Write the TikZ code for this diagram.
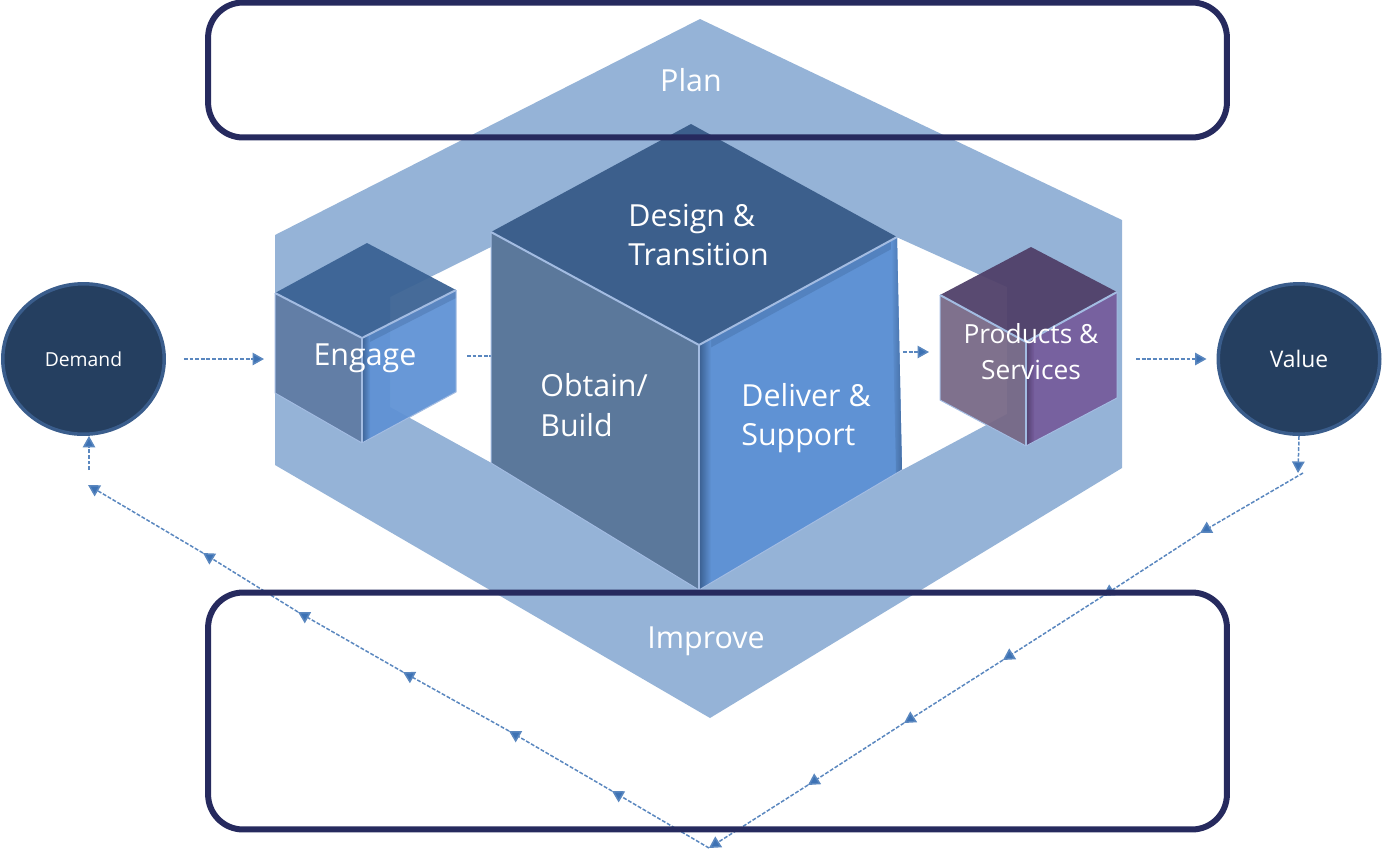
\documentclass[tikz,border=0pt]{standalone}
\usepackage{fontspec}
\setmainfont{Open Sans}
\usetikzlibrary{arrows.meta,shapes.geometric}
\definecolor{bandblue}{HTML}{95B3D7}
\definecolor{ringnavy}{HTML}{262A5E}
\definecolor{discfill}{HTML}{253F60}
\definecolor{discedge}{HTML}{3A5D8C}
\definecolor{flowblue}{HTML}{3D72B4}
\definecolor{edgelight}{HTML}{A3BCE2}
\definecolor{cubetop}{HTML}{3C5F8C}
\definecolor{cubeleft}{HTML}{5B789B}
\definecolor{cuberight}{HTML}{5F92D4}
\definecolor{cubedark}{HTML}{3A5F90}
\definecolor{smalltop}{HTML}{3A6293}
\definecolor{smallleft}{HTML}{5F7BA3}
\definecolor{smallright}{HTML}{5F92D4}
\definecolor{plumtop}{HTML}{4F3F68}
\definecolor{plumleft}{HTML}{776886}
\definecolor{plumright}{HTML}{765C9C}
\definecolor{plumdark}{HTML}{4E3F6B}

\begin{document}
\begin{tikzpicture}[x=.02cm,y=-.02cm,
  disc/.style={ellipse,draw=discedge,line width=.7mm,fill=discfill,text=white,inner sep=0pt,minimum width=3.23cm,minimum height=3.01cm},
  ring/.style={draw=ringnavy,line width=1.2mm,rounded corners=.7cm},
  flow/.style={draw=flowblue!85!white,line width=.3mm,dash pattern=on 2.2pt off 1pt,-{Triangle[length=2.3mm,width=2.5mm,fill=flowblue]}},
  face/.style={draw=edgelight,line width=.4mm,line join=round},
  caption/.style={text=white,font=\fontsize{17.3}{22.6}\selectfont,align=left,inner sep=0pt}]
\useasboundingbox (0,0) rectangle (1382,860);

%Band
\fill [bandblue,even odd rule] (275,235) -- (700,19) -- (1122,220) -- (1122,468) -- (710,718) -- (275,465) -- cycle
  (390,297) -- (695,146) -- (1007,287) -- (1007,414) -- (700,578) -- (390,407) -- cycle;

%Flow coordinates
\coordinate (EngageIn) at (264,359);
\coordinate (EngageOut) at (467,356);
\coordinate (BuildIn) at (503,356);
\coordinate (BuildOut) at (903,352);
\coordinate (GoodsIn) at (929,352);
\coordinate (GoodsOut) at (1136,359);
\coordinate (ValueTurn) at (1298,473);
\coordinate (Right0) at (1303,473);
\coordinate (Right1) at (1200,533);
\coordinate (Right2) at (1103,596);
\coordinate (Right3) at (1003,660);
\coordinate (Right4) at (904,723);
\coordinate (Right5) at (808,785);
\coordinate (Bottom) at (709,848);
\coordinate (Left1) at (612,791);
\coordinate (Left2) at (509,731);
\coordinate (Left3) at (403,672);
\coordinate (Left4) at (298,612);
\coordinate (Left5) at (203,553);
\coordinate (Left6) at (88,485);
\coordinate (DemandTurn) at (89,470);

%Link hidden behind the big cube
\draw [flow] (EngageOut) -- (BuildIn);

%Big cube
\fill [cubetop] (691,124) -- (897,237) -- (699,345) -- (491,232) -- cycle;
\fill [cubeleft] (491,232) -- (699,345) -- (699,590) -- (491,463) -- cycle;
\fill [cuberight] (699,345) -- (897,237) -- (902,470) -- (699,590) -- cycle;
\fill [cubedark,fill opacity=.3] (699,345) -- (897,237) -- (897,246) -- (699,354) -- cycle;
\shade [left color=cubedark,right color=cuberight] (699,345) -- (711,338) -- (711,583) -- (699,590) -- cycle;
\shade [left color=cuberight,right color=cubedark!70!cuberight] (891,240) -- (897,237) -- (902,470) -- (896,473) -- cycle;
\draw [face] (491,232) -- (699,345) -- (897,237);
\draw [face] (699,345) -- (699,590);
\draw [face,line width=.2mm] (491,232) -- (491,463) -- (699,590) -- (902,470);

%Engage cube
\begin{scope}[fill opacity=.94]
\fill [smalltop] (367,243) -- (456,290) -- (362,338) -- (275,293) -- cycle;
\fill [smallleft] (275,293) -- (362,338) -- (362,443) -- (275,393) -- cycle;
\fill [smallright] (362,338) -- (456,290) -- (456,392) -- (362,443) -- cycle;
\end{scope}
\fill [cubedark,fill opacity=.3] (362,338) -- (456,290) -- (456,298) -- (362,346) -- cycle;
\shade [left color=cubedark,right color=smallright,fill opacity=.9] (362,338) -- (370,334) -- (370,439) -- (362,443) -- cycle;
\draw [face] (275,293) -- (362,338) -- (456,290);
\draw [face] (362,338) -- (362,443);
\draw [face,line width=.2mm] (275,293) -- (275,393) -- (362,443) -- (456,392) -- (456,290);

%Products cube
\begin{scope}[fill opacity=.94]
\fill [plumtop] (1031,247) -- (1117,292) -- (1026,342) -- (940,295) -- cycle;
\fill [plumleft] (940,295) -- (1026,342) -- (1026,446) -- (940,400) -- cycle;
\fill [plumright] (1026,342) -- (1117,292) -- (1117,398) -- (1026,446) -- cycle;
\end{scope}
\shade [left color=plumdark,right color=plumright,fill opacity=.9] (1026,342) -- (1034,338) -- (1034,442) -- (1026,446) -- cycle;
\draw [face] (940,295) -- (1026,342) -- (1117,292);
\draw [face] (1026,342) -- (1026,446);
\draw [face,line width=.2mm] (940,295) -- (940,400) -- (1026,446) -- (1117,398) -- (1117,292);

%Node Labels
\node [caption] at (691,80) (Plan) {Plan};
\node [caption] at (706,641) (Improve) {Improve};
\node [caption,anchor=west] at (628,235) (Design) {Design \&\\Transition};
\node [caption,anchor=west] at (540,405) (Obtain) {Obtain/\\Build};
\node [caption,anchor=west] at (741,418) (Deliver) {Deliver \&\\Support};
\node [caption] at (365,358) (Engage) {Engage};
\node [caption,align=center,font=\fontsize{15}{20.4}\selectfont] at (1031,352) (Goods) {Products \&\\Services};

%Discs
\node [disc,font=\fontsize{11}{12}\selectfont] at (83.5,359) (Demand) {Demand};
\node [disc,font=\fontsize{13}{12}\selectfont] at (1299,359) (Value) {Value};

%Connections
\draw [flow,shorten <=.36cm] (Demand.east) -- (EngageIn);
\draw [flow] (BuildOut) -- (GoodsIn);
\draw [flow,shorten >=.2cm] (GoodsOut) -- (Value.west);
\draw [flow] (Value.south) -- (ValueTurn);
\draw [flow] (Right0) -- (Right1);
\draw [flow] (Right1) -- (Right2);
\draw [flow] (Right2) -- (Right3);
\draw [flow] (Right3) -- (Right4);
\draw [flow] (Right4) -- (Right5);
\draw [flow] (Right5) -- (Bottom);
\draw [flow] (Bottom) -- (Left1);
\draw [flow] (Left1) -- (Left2);
\draw [flow] (Left2) -- (Left3);
\draw [flow] (Left3) -- (Left4);
\draw [flow] (Left4) -- (Left5);
\draw [flow] (Left5) -- (Left6);
\draw [flow] (DemandTurn) -- (DemandTurn |- Demand.south);

%Rings
\node [ring,minimum width=20.38cm,minimum height=2.7cm] at (717.5,70) (PlanRing) {};
\node [ring,minimum width=20.38cm,minimum height=4.74cm] at (717.5,711) (ImproveRing) {};
\end{tikzpicture}
\end{document}
